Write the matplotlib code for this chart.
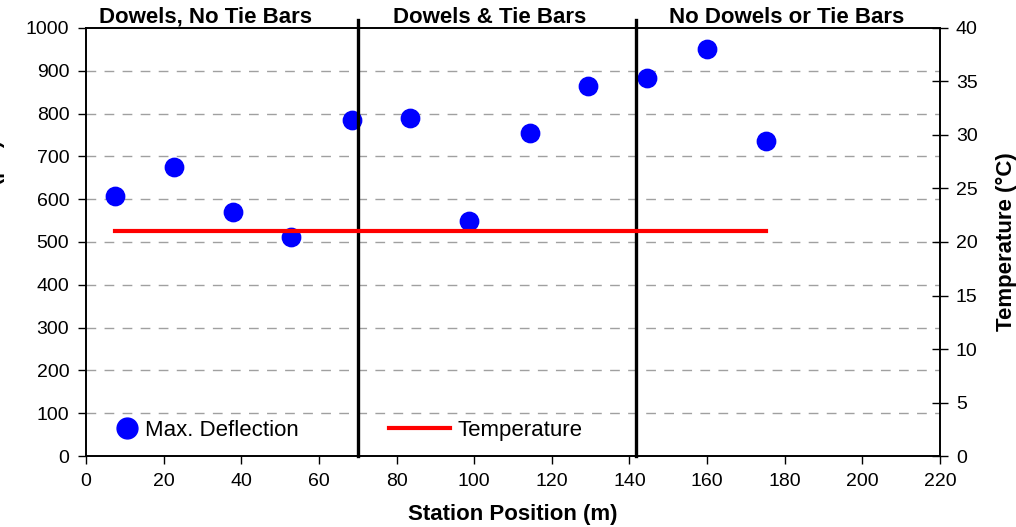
#!/usr/bin/env python3
# -*- coding: utf-8 -*-
import matplotlib
matplotlib.use("Agg")
import matplotlib.pyplot as plt
from matplotlib.lines import Line2D

plt.rcParams['font.family'] = ['Liberation Sans', 'DejaVu Sans']

# station positions (m) and max deflection readings
station = [7.5, 22.7, 37.9, 52.8, 68.5, 83.5, 98.7, 114.4, 129.3, 144.5, 160.0, 175.2]
deflection = [607, 676, 569, 512, 785, 789, 550, 754, 865, 882, 950, 735]

# temperature line
temp_x = [7.5, 175.2]
temp_y = [21, 21]

# section boundaries and names
boundaries = [70, 141.7]
sections = ["Dowels, No Tie Bars", "Dowels & Tie Bars", "No Dowels or Tie Bars"]
section_x = [30.7, 104, 180.5]

fig = plt.figure(figsize=(10.16, 5.27), dpi=100)
ax = fig.add_axes([0.0846, 0.1347, 0.8406, 0.8122])
ax2 = ax.twinx()

ax.set_xlim(0, 220)
ax.set_ylim(0, 1000)
ax2.set_ylim(0, 40)
ax.set_xticks(range(0, 221, 20))
ax.set_yticks(range(0, 1001, 100))
ax2.set_yticks(range(0, 41, 5))

for y in range(100, 1000, 100):
    ax.axhline(y, color="#a0a0a0", lw=1, dashes=(7, 6), zorder=0)

ax.scatter(station, deflection, s=175, color="#0000ff", zorder=3, clip_on=False)
ax2.plot(temp_x, temp_y, color="#ff0000", lw=3, zorder=3)

for b in boundaries:
    ax.axvline(b, ymin=0, ymax=1.019, color="black", lw=2.4, clip_on=False, zorder=4)

for name, sx in zip(sections, section_x):
    ax.text(sx, 1001, name, ha="center", va="bottom", fontsize=16, fontweight="bold",
            family=["Liberation Sans Narrow", "Liberation Sans"])

for a in (ax, ax2):
    for sp in a.spines.values():
        sp.set_linewidth(1.2)
        sp.set_color("black")

ax.tick_params(axis="both", direction="out", length=6, width=1, labelsize=14, pad=6)
ax2.tick_params(axis="y", direction="inout", length=11, width=1, labelsize=14, pad=6)

ax.set_xlabel("Station Position (m)", fontsize=16, fontweight="bold", labelpad=10)
ax2.set_ylabel("Temperature (°C)", fontsize=16, fontweight="bold", labelpad=13)
# the reference crops this label at the left edge
ax.set_ylabel("Max. Deflection (µm)", fontsize=15, fontweight="bold")
ax.yaxis.set_label_coords(-0.095, 0.5)

h_defl = Line2D([], [], marker="o", color="#0000ff", linestyle="none", markersize=15)
h_temp = Line2D([], [], color="#ff0000", lw=3)
leg1 = ax2.legend([h_defl], ["Max. Deflection"], frameon=False, fontsize=16,
                  loc="center left", bbox_to_anchor=(0.1142, 0.184),
                  bbox_transform=fig.transFigure, borderpad=0, borderaxespad=0,
                  handlelength=1.0, handletextpad=0.31)
ax2.add_artist(leg1)
ax2.legend([h_temp], ["Temperature"], frameon=False, fontsize=16,
           loc="center left", bbox_to_anchor=(0.3829, 0.184),
           bbox_transform=fig.transFigure, borderpad=0, borderaxespad=0,
           handlelength=2.75, handletextpad=0.32)

fig.savefig("out.png", dpi=100)
